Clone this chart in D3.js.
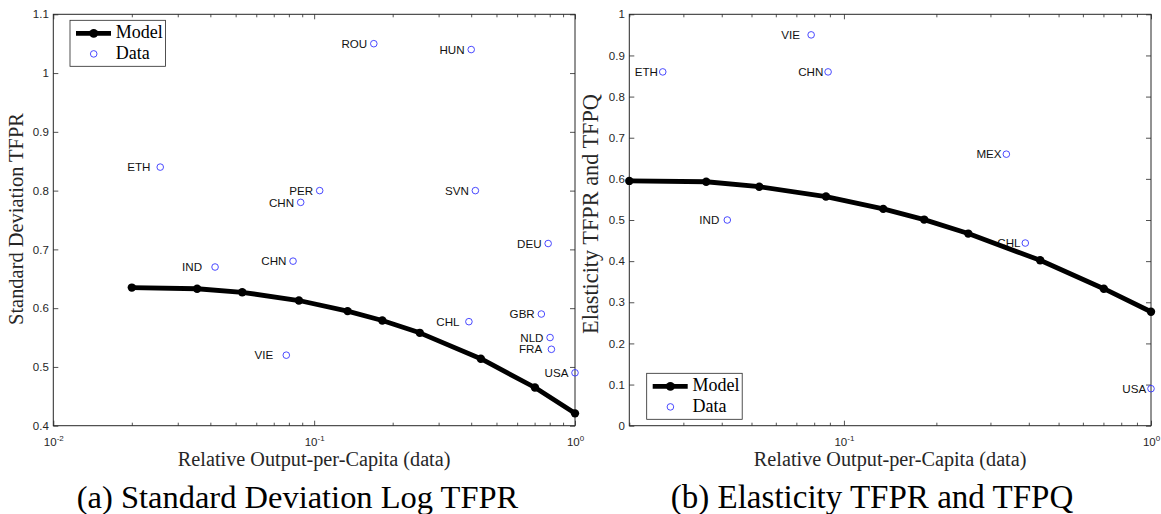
<!DOCTYPE html>
<html><head><meta charset="utf-8">
<script src="https://cdn.jsdelivr.net/npm/d3@7"></script>
<style>
body{margin:0;background:#fff;}
svg{display:block;}
</style></head><body>
<svg id="c" width="1161" height="514"></svg>
<script>
// ---------------- data ----------------
const modelX = [0.0200, 0.0356, 0.0530, 0.0874, 0.1343, 0.1825, 0.2540, 0.4355, 0.7020, 1.0];
const modelStd = [0.635, 0.633, 0.627, 0.613, 0.595, 0.579, 0.558, 0.514, 0.465, 0.421];
const modelElast = [0.595, 0.593, 0.581, 0.557, 0.527, 0.501, 0.467, 0.402, 0.333, 0.277];

const stdCountries = ["ETH ", "ROU", "HUN", "PER", "CHN", "SVN", "DEU", "IND  ", "CHN", "VIE  ", "CHL ", "GBR", "NLD", "FRA ", "USA"];
const stdX = [0.0257, 0.1693, 0.400, 0.105, 0.0888, 0.415, 0.789, 0.0417, 0.083, 0.0782, 0.392, 0.743, 0.8025, 0.812, 1.0];
const stdY = [0.84, 1.05, 1.04, 0.80, 0.78, 0.80, 0.71, 0.67, 0.68, 0.52, 0.577, 0.59, 0.55, 0.53, 0.49];

const elCountries = ["ETH", "VIE  ", "CHN", "IND ", "MEX", "CHL", "USA"];
const elX = [0.0257, 0.0782, 0.0888, 0.0417, 0.338, 0.3896, 1.0];
const elY = [0.86, 0.95, 0.86, 0.50, 0.66, 0.444, 0.09];

const xMajorTicks = [0.01, 0.1, 1];
const xMajorBase = ["10", "10", "10"];
const xMajorExp = ["-2", "-1", "0"];
const xMinorTicks = [0.02, 0.03, 0.04, 0.05, 0.06, 0.07, 0.08, 0.09, 0.2, 0.3, 0.4, 0.5, 0.6, 0.7, 0.8, 0.9];

const stdYTicks = [0.4, 0.5, 0.6, 0.7, 0.8, 0.9, 1, 1.1];
const stdYTickLabels = ["0.4", "0.5", "0.6", "0.7", "0.8", "0.9", "1", "1.1"];
const elYTicks = [0, 0.1, 0.2, 0.3, 0.4, 0.5, 0.6, 0.7, 0.8, 0.9, 1];
const elYTickLabels = ["0", "0.1", "0.2", "0.3", "0.4", "0.5", "0.6", "0.7", "0.8", "0.9", "1"];

const legendLabels = ["Model", "Data"];
const xTitle = "Relative Output-per-Capita (data)";
const yTitles = ["Standard Deviation TFPR", "Elasticity TFPR and TFPQ"];
const captions = ["(a) Standard Deviation Log TFPR", "(b) Elasticity TFPR and TFPQ"];

// ---------------- drawing ----------------
const svg = d3.select("#c");
const AX = "#262626";
const sans = "'Liberation Sans', Arial, Helvetica, sans-serif";
const serif = "'Liberation Serif', 'Times New Roman', serif";
const BLUE = "#3535ff";

function fit(sel, target) {
  const w = sel.node().getComputedTextLength();
  const fs = parseFloat(sel.attr("font-size"));
  sel.attr("font-size", (fs * target / w).toFixed(2));
}

function panel(cfg) {
  const {left, right, top, bottom} = cfg;
  const x = d3.scaleLog().domain(cfg.xDomain).range([left, right]);
  const y = d3.scaleLinear().domain(cfg.yDomain).range([bottom, top]);
  const g = svg.append("g");
  const inDom = v => v >= cfg.xDomain[0] - 1e-9 && v <= cfg.xDomain[1] + 1e-9;
  const minors = xMinorTicks.filter(inDom);
  const majIdx = xMajorTicks.map((v, i) => i).filter(i => inDom(xMajorTicks[i]));
  const majors = majIdx.map(i => xMajorTicks[i]);
  const clean = s => s.call(a => a.select(".domain").remove())
                      .call(a => a.selectAll(".tick line").attr("stroke", AX).attr("stroke-width", 0.8));

  // bottom & top axes
  g.append("g").attr("transform", `translate(0,${bottom})`)
    .call(d3.axisBottom(x).tickValues(minors).tickSize(-3).tickFormat(""))
    .call(clean).selectAll("text").remove();
  g.append("g").attr("transform", `translate(0,${top})`)
    .call(d3.axisTop(x).tickValues(minors).tickSize(-3).tickFormat(""))
    .call(clean).selectAll("text").remove();
  const bMaj = g.append("g").attr("transform", `translate(0,${bottom})`)
    .call(d3.axisBottom(x).tickValues(majors).tickSize(-5).tickFormat(""))
    .call(clean);
  bMaj.selectAll(".tick text").each(function(d, i) {
    const k = majIdx[i];
    const t = d3.select(this).text(null).attr("y", 20.3).attr("dy", null)
      .attr("fill", AX).attr("font-family", sans).attr("font-size", 11.5)
      .attr("text-anchor", "middle");
    t.append("tspan").text(xMajorBase[k]);
    t.append("tspan").attr("font-size", 8).attr("dy", -5).text(xMajorExp[k]);
  });
  g.append("g").attr("transform", `translate(0,${top})`)
    .call(d3.axisTop(x).tickValues(majors).tickSize(-5).tickFormat(""))
    .call(clean).selectAll("text").remove();

  // left & right axes
  g.append("g").attr("transform", `translate(${left},0)`)
    .call(d3.axisLeft(y).tickValues(cfg.yTicks).tickSize(-5).tickPadding(4.5)
      .tickFormat((d, i) => cfg.yTickLabels[i]))
    .call(clean)
    .selectAll("text").attr("fill", AX).attr("font-family", sans).attr("font-size", 11.5);
  g.append("g").attr("transform", `translate(${right},0)`)
    .call(d3.axisRight(y).tickValues(cfg.yTicks).tickSize(-5).tickFormat(""))
    .call(clean).selectAll("text").remove();

  // box
  g.append("rect").attr("x", left).attr("y", top)
    .attr("width", right - left).attr("height", bottom - top)
    .attr("fill", "none").attr("stroke", AX).attr("stroke-width", 1);

  // country labels
  const r = 3.3;
  g.append("g").selectAll("text").data(cfg.countries).join("text")
    .attr("x", (d, i) => x(cfg.dx[i]) - r - cfg.gap)
    .attr("y", (d, i) => y(cfg.dy[i]))
    .attr("dy", "0.36em")
    .attr("text-anchor", "end")
    .style("white-space", "pre")
    .attr("font-family", sans).attr("font-size", 11.6).attr("fill", "#111")
    .text(d => d);

  // model line
  const line = d3.line().x(i => x(modelX[i])).y(i => y(cfg.model[i]));
  g.append("path").attr("d", line(d3.range(modelX.length)))
    .attr("fill", "none").attr("stroke", "#000").attr("stroke-width", 4.8)
    .attr("stroke-linejoin", "round");
  g.append("g").selectAll("circle").data(d3.range(modelX.length)).join("circle")
    .attr("cx", i => x(modelX[i])).attr("cy", i => y(cfg.model[i])).attr("r", 4.2).attr("fill", "#000");

  // data circles
  g.append("g").selectAll("circle").data(cfg.countries).join("circle")
    .attr("cx", (d, i) => x(cfg.dx[i])).attr("cy", (d, i) => y(cfg.dy[i])).attr("r", r)
    .attr("fill", "none").attr("stroke", BLUE).attr("stroke-width", 0.9);

  // legend
  const lg = g.append("g").attr("transform", `translate(${cfg.legX},${cfg.legY})`);
  lg.append("rect").attr("width", 95.5).attr("height", 46).attr("fill", "#fff")
    .attr("stroke", AX).attr("stroke-width", 0.8);
  lg.append("line").attr("x1", 6).attr("x2", 41).attr("y1", 13).attr("y2", 13)
    .attr("stroke", "#000").attr("stroke-width", 4.8);
  lg.append("circle").attr("cx", 23.7).attr("cy", 13).attr("r", 4.4).attr("fill", "#000");
  lg.append("circle").attr("cx", 23.7).attr("cy", 33.6).attr("r", r)
    .attr("fill", "none").attr("stroke", BLUE).attr("stroke-width", 0.9);
  lg.selectAll("text.lt").data(legendLabels).join("text").attr("class", "lt")
    .attr("x", 45.7).attr("y", (d, i) => i === 0 ? 17.7 : 38.3)
    .attr("font-family", serif).attr("font-size", 18).attr("fill", "#000")
    .text(d => d);

  // axis titles
  const xt = g.append("text").attr("x", (left + right) / 2).attr("y", 466)
    .attr("text-anchor", "middle").attr("font-family", serif).attr("font-size", 20)
    .attr("fill", AX).text(xTitle);
  fit(xt, 272.7);
  const yt = g.append("text")
    .attr("transform", `translate(${cfg.yTitleX},${cfg.yTitleY}) rotate(-90)`)
    .attr("text-anchor", "middle").attr("font-family", serif).attr("font-size", 20)
    .attr("fill", AX).text(cfg.yTitle);
  fit(yt, cfg.yTitleLen);

  // caption
  const cap = svg.append("text").attr("x", cfg.capX).attr("y", 507.5)
    .attr("text-anchor", "middle").attr("font-family", serif).attr("font-size", 30)
    .attr("fill", "#000").text(cfg.caption);
  fit(cap, cfg.capLen);
}

panel({
  left: 53.3, right: 575, top: 14.3, bottom: 425.7,
  xDomain: [0.01, 1], yDomain: [0.4, 1.1],
  yTicks: stdYTicks, yTickLabels: stdYTickLabels,
  countries: stdCountries, dx: stdX, dy: stdY, gap: 3.3,
  model: modelStd,
  legX: 70, legY: 20.3,
  yTitle: yTitles[0], yTitleX: 22.5, yTitleY: 219, yTitleLen: 212,
  caption: captions[0], capX: 297.5, capLen: 441.6
});

panel({
  left: 629.3, right: 1151, top: 14.3, bottom: 425.7,
  xDomain: [modelX[0], 1], yDomain: [0, 1],
  yTicks: elYTicks, yTickLabels: elYTickLabels,
  countries: elCountries, dx: elX, dy: elY, gap: 1.5,
  model: modelElast,
  legX: 646.7, legY: 373.3,
  yTitle: yTitles[1], yTitleX: 598, yTitleY: 214, yTitleLen: 240,
  caption: captions[1], capX: 872, capLen: 402.6
});
</script>
</body></html>
